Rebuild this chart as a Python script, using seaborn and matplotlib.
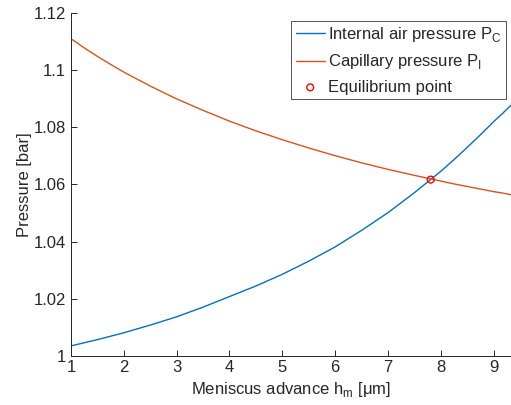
import numpy as np
import pandas as pd
import matplotlib
matplotlib.use("Agg")
import matplotlib.pyplot as plt
from matplotlib.ticker import FuncFormatter
import seaborn as sns

# valores
h_m = [1, 1.25, 1.5, 1.75, 2, 2.5, 3, 3.5, 4, 4.5, 5, 5.5, 6, 6.5, 7, 7.5, 8,
       8.25, 8.5, 8.75, 9, 9.17, 9.33]
p_c = [1.0034, 1.0045, 1.0056, 1.0068, 1.0080, 1.0107, 1.0136, 1.0170, 1.0207,
       1.0244, 1.0285, 1.0331, 1.0381, 1.0439, 1.0501, 1.0571, 1.0646,
       1.0687, 1.0730, 1.0774, 1.0820, 1.0849, 1.0878]
p_i = [1.1111, 1.1079, 1.1049, 1.1021, 1.0994, 1.0945, 1.0900, 1.0860, 1.0822,
       1.0788, 1.0757, 1.0728, 1.0701, 1.0676, 1.0653, 1.0632, 1.0612,
       1.0602, 1.0593, 1.0584, 1.0575, 1.0570, 1.0564]
eq_h = [7.81]
eq_p = [1.0617]

sns.set_style("ticks")
plt.rcParams.update({
    'font.family': ['Liberation Sans', 'DejaVu Sans'],
    'mathtext.fontset': 'custom',
    'mathtext.rm': 'Liberation Sans',
    'font.size': 12,
    'axes.edgecolor': '#262626',
    'xtick.color': '#262626',
    'ytick.color': '#262626',
    'axes.labelcolor': '#262626',
    'xtick.direction': 'in',
    'ytick.direction': 'in',
})

df = pd.DataFrame({'h': h_m, 'Pc': p_c, 'Pi': p_i})

fig = plt.figure(figsize=(5.11, 4.05), dpi=100)
ax = fig.add_axes([0.139, 0.122, 0.861, 0.845])

sns.lineplot(data=df, x='h', y='Pc', ax=ax, color='#0072BD', linewidth=1,
             label='Internal air pressure P$_{\\rm C}$')
sns.lineplot(data=df, x='h', y='Pi', ax=ax, color='#D95319', linewidth=1,
             label='Capillary pressure P$_{\\rm I}$')
sns.scatterplot(x=eq_h, y=eq_p, ax=ax, marker='o', s=24, facecolors='none',
                edgecolor='red', linewidth=1, label='Equilibrium point', zorder=5)

ax.set_xlim(1, 9.33)
ax.set_ylim(1, 1.12)
ax.set_xticks(range(1, 10))
ax.set_yticks([1, 1.02, 1.04, 1.06, 1.08, 1.1, 1.12])
ax.yaxis.set_major_formatter(FuncFormatter(lambda v, p: f"{v:g}"))
ax.tick_params(length=4.5, width=0.7, labelsize=12)
for s in ['top', 'right']:
    ax.spines[s].set_visible(False)
for s in ['left', 'bottom']:
    ax.spines[s].set_linewidth(0.7)

ax.set_xlabel('Meniscus advance h$_{\\rm m}$ [μm]', fontsize=12, labelpad=3)
ax.set_ylabel('Pressure [bar]', fontsize=12, labelpad=1)

leg = ax.legend(loc='upper right', bbox_to_anchor=(0.9886, 0.978), fontsize=12,
                frameon=True, fancybox=False, handlelength=1.75, handletextpad=0.2,
                borderpad=0.25, labelspacing=0.5, borderaxespad=0)
leg.get_frame().set_edgecolor('#262626')
leg.get_frame().set_linewidth(0.7)

plt.savefig("out.png", dpi=100)
